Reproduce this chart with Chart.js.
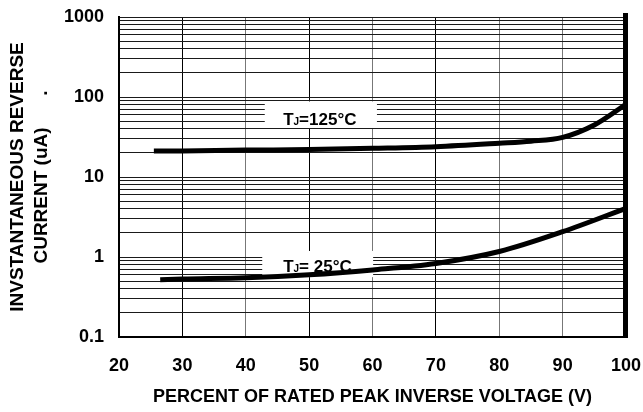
<!DOCTYPE html>
<html>
<head>
<meta charset="utf-8">
<script src="https://cdn.jsdelivr.net/npm/chart.js@4.4.0/dist/chart.umd.min.js"></script>
<style>
  html, body { margin: 0; padding: 0; background: #fff; }
  #myChart { display: block; }
</style>
</head>
<body>
<canvas id="myChart" width="643" height="412"></canvas>
<script>
// TJ = 125 C curve (percent of rated PIV -> uA)
const voltHot = [25.5, 30, 40, 50, 60, 70, 80, 85, 90, 95, 100];
const currentHot = [21.1, 21.2, 21.7, 22.0, 22.8, 23.9, 26.4, 28, 31.3, 44.7, 81];

// TJ = 25 C curve
const voltCold = [26.5, 30, 40, 50, 60, 70, 80, 90, 100];
const currentCold = [0.52, 0.53, 0.55, 0.6, 0.69, 0.83, 1.17, 2.07, 4.06];

const xTicks = [20, 30, 40, 50, 60, 70, 80, 90, 100];
const yDecades = [0.1, 1, 10, 100, 1000];
const grayX = [40, 60, 80, 90];

// log paper: 1..9 in every decade
const yGrid = [];
yDecades.slice(0, -1).forEach((d) => {
  for (let m = 1; m < 10; m++) yGrid.push(m * d);
});
yGrid.push(1000);

const FONT = "'Liberation Sans', Arial, sans-serif";

// white boxes with the curve names, in data units
const curveLabels = [
  { box: [43, 60.7, 88, 41], at: [45.9, 44.7], main: "T", sub: "J", rest: "=125\u00B0C" },
  { box: [42.6, 60.1, 1.19, 0.56], at: [45.9, 0.65], main: "T", sub: "J", rest: "= 25\u00B0C" },
];

const overlay = {
  id: "overlay",
  beforeDatasetsDraw(chart) {
    const { ctx, scales: { x, y } } = chart;
    ctx.save();
    curveLabels.forEach((l) => {
      const left = x.getPixelForValue(l.box[0]);
      const right = x.getPixelForValue(l.box[1]);
      const top = y.getPixelForValue(l.box[2]);
      const bottom = y.getPixelForValue(l.box[3]);
      ctx.fillStyle = "#fff";
      ctx.fillRect(left, top, right - left, bottom - top);

      let px = x.getPixelForValue(l.at[0]);
      const py = y.getPixelForValue(l.at[1]);
      ctx.fillStyle = "#000";
      ctx.textBaseline = "alphabetic";
      ctx.textAlign = "left";
      ctx.font = "bold 17px " + FONT;
      ctx.fillText(l.main, px, py);
      px += ctx.measureText(l.main).width;
      ctx.font = "bold 10px " + FONT;
      ctx.fillText(l.sub, px, py);
      px += ctx.measureText(l.sub).width;
      ctx.font = "bold 17px " + FONT;
      ctx.fillText(l.rest, px, py);
    });
    ctx.restore();
  },
  afterDraw(chart) {
    const { ctx, chartArea } = chart;
    ctx.save();
    ctx.fillStyle = "#000";
    // heavy right frame edge
    ctx.fillRect(chartArea.right - 3, chartArea.top - 4, 5, chartArea.bottom - chartArea.top + 5);
    ctx.restore();
  },
};

const ctx = document.getElementById("myChart");

new Chart(ctx, {
  type: "line",
  data: {
    datasets: [
      {
        label: "TJ=125C",
        data: voltHot.map((v, i) => ({ x: v, y: currentHot[i] })),
        borderColor: "#000",
        borderWidth: 5,
        pointRadius: 0,
        fill: false,
        cubicInterpolationMode: "monotone",
      },
      {
        label: "TJ=25C",
        data: voltCold.map((v, i) => ({ x: v, y: currentCold[i] })),
        borderColor: "#000",
        borderWidth: 5,
        pointRadius: 0,
        fill: false,
        cubicInterpolationMode: "monotone",
      },
    ],
  },
  options: {
    responsive: false,
    animation: false,
    devicePixelRatio: 1,
    layout: { padding: { top: 17, right: 17, left: 0, bottom: 0 } },
    plugins: {
      legend: { display: false },
      tooltip: { enabled: false },
    },
    scales: {
      x: {
        type: "linear",
        min: 20,
        max: 100,
        afterBuildTicks: (s) => { s.ticks = xTicks.map((v) => ({ value: v })); },
        afterFit: (s) => {
          s.height = 75;
          s.paddingLeft = 0;
          s.paddingRight = 0;
        },
        ticks: {
          padding: 18,
          color: "#000",
          font: { family: FONT, size: 18, weight: "bold" },
        },
        grid: {
          color: (c) => (c.tick && grayX.includes(c.tick.value) ? "#777" : "#000"),
          lineWidth: 1,
          drawTicks: false,
        },
        border: { color: "#000", width: 2 },
        title: {
          display: true,
          text: "PERCENT OF RATED PEAK INVERSE VOLTAGE (V)",
          color: "#000",
          font: { family: FONT, size: 18, weight: "bold" },
          padding: { top: 0, bottom: 4 },
        },
      },
      y: {
        type: "logarithmic",
        min: 0.1,
        max: 1000,
        afterBuildTicks: (s) => { s.ticks = yGrid.map((v) => ({ value: v })); },
        afterFit: (s) => {
          s.width = 119;
          s.paddingTop = 0;
          s.paddingBottom = 0;
        },
        ticks: {
          autoSkip: false,
          padding: 15,
          color: "#000",
          font: { family: FONT, size: 18, weight: "bold" },
          callback: (v) => (yDecades.includes(v) ? String(v) : ""),
        },
        grid: { color: "#1a1a1a", lineWidth: 1, drawTicks: false },
        border: { color: "#000", width: 2 },
        title: {
          display: true,
          text: ["INVSTANTANEOUS REVERSE", "CURRENT (uA)      ."],
          color: "#000",
          font: { family: FONT, size: 19, weight: "bold", lineHeight: 1.3 },
          padding: { top: 5, bottom: 0 },
        },
      },
    },
  },
  plugins: [overlay],
});
</script>
</body>
</html>
